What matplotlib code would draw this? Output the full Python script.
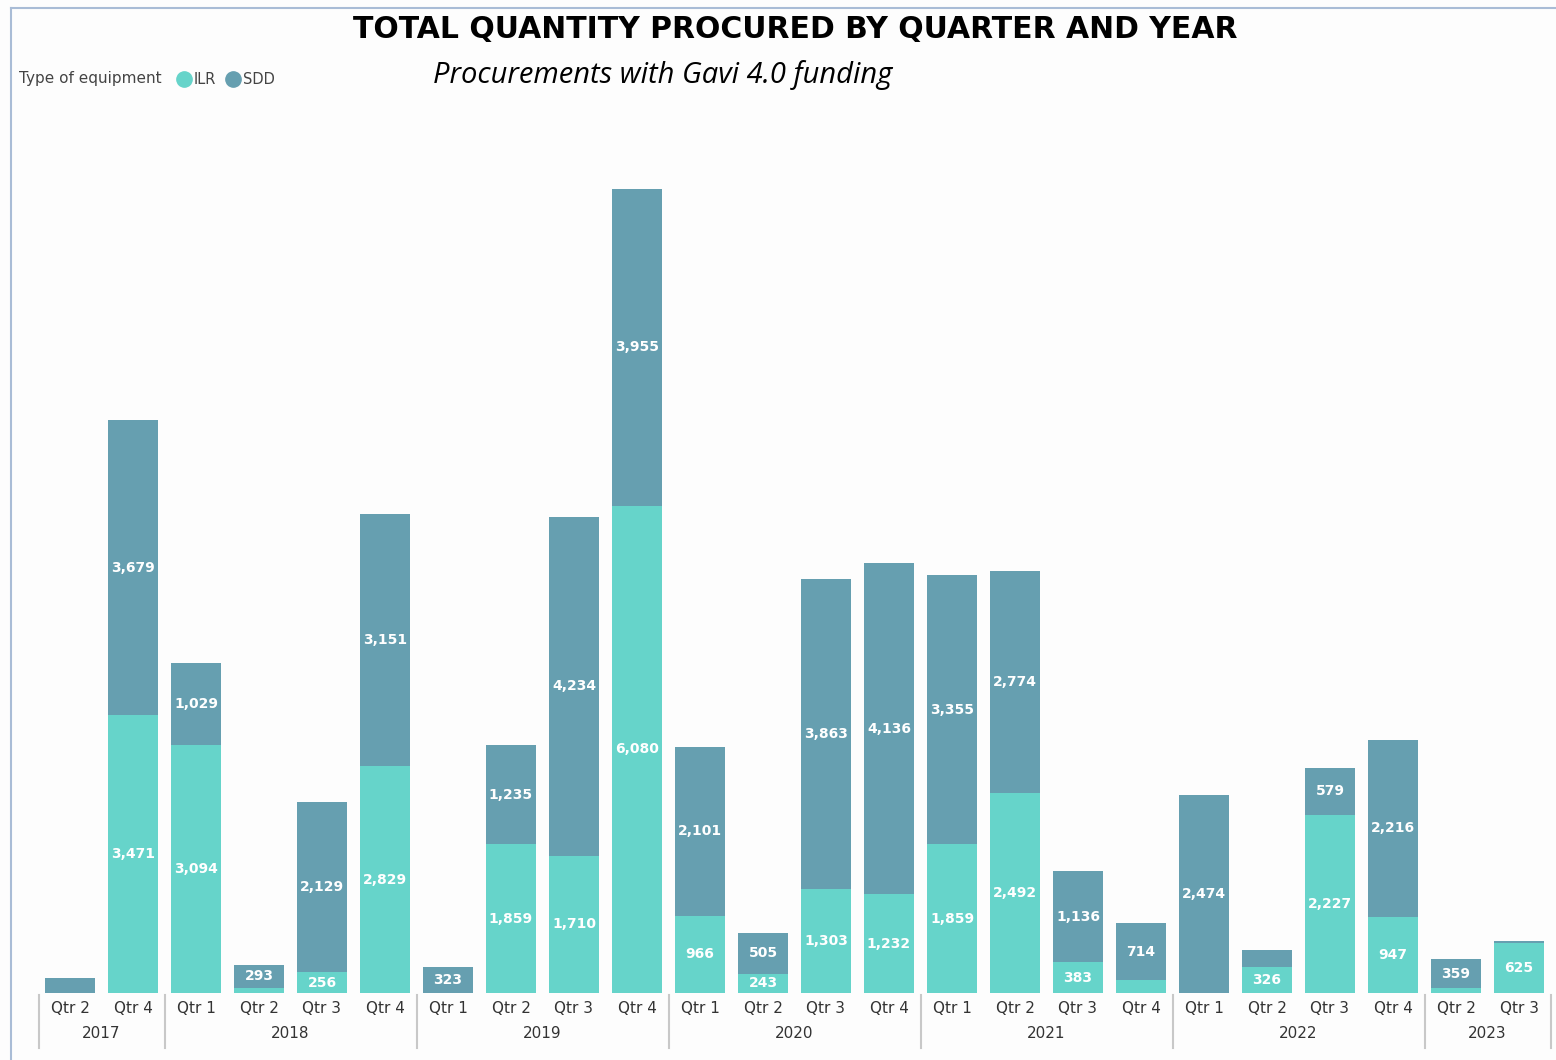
import matplotlib
matplotlib.use("Agg")
import matplotlib.pyplot as plt
import numpy as np

quarters = ["Qtr 2", "Qtr 4",
            "Qtr 1", "Qtr 2", "Qtr 3", "Qtr 4",
            "Qtr 1", "Qtr 2", "Qtr 3", "Qtr 4",
            "Qtr 1", "Qtr 2", "Qtr 3", "Qtr 4",
            "Qtr 1", "Qtr 2", "Qtr 3", "Qtr 4",
            "Qtr 1", "Qtr 2", "Qtr 3", "Qtr 4",
            "Qtr 2", "Qtr 3"]
years = ["2017", "2018", "2019", "2020", "2021", "2022", "2023"]
year_counts = [2, 4, 4, 4, 4, 4, 2]
ilr = [0, 3471, 3094, 60, 256, 2829, 0, 1859, 1710, 6080, 966, 243, 1303, 1232,
       1859, 2492, 383, 160, 0, 326, 2227, 947, 60, 625]
sdd = [190, 3679, 1029, 293, 2129, 3151, 323, 1235, 4234, 3955, 2101, 505, 3863, 4136,
       3355, 2774, 1136, 714, 2474, 205, 579, 2216, 359, 25]

c_ilr = "#66D4CA"
c_sdd = "#669FB0"

W, H = 1556, 1060
fig = plt.figure(figsize=(W / 100, H / 100), dpi=100)
fig.patch.set_facecolor("#FDFDFD")

# frame lines (left and top)
fig.add_artist(plt.Line2D([11 / W, 11 / W], [0, 1 - 8 / H], transform=fig.transFigure,
                          color="#A9BCD6", lw=1.5))
fig.add_artist(plt.Line2D([11 / W, 1], [1 - 8 / H, 1 - 8 / H], transform=fig.transFigure,
                          color="#A9BCD6", lw=1.5))

ax = fig.add_axes([38.5 / W, 67 / H, 1512 / W, 880 / H])
ax.set_facecolor("none")
ymax = 880 / (804 / 10035)
ax.set_xlim(-0.5, len(quarters) - 0.5)
ax.set_ylim(0, ymax)

x = np.arange(len(quarters))
ilr = np.array(ilr)
sdd = np.array(sdd)
ax.bar(x, ilr, width=0.79, color=c_ilr)
ax.bar(x, sdd, width=0.79, bottom=ilr, color=c_sdd)

lab_kw = dict(ha="center", va="center", color="white", fontsize=10,
              fontweight="bold", family="DejaVu Sans")
for i in range(len(x)):
    if ilr[i] >= 230:
        ax.text(x[i], ilr[i] / 2, f"{ilr[i]:,}", **lab_kw)
    if sdd[i] >= 230:
        ax.text(x[i], ilr[i] + sdd[i] / 2, f"{sdd[i]:,}", **lab_kw)

for s in ax.spines.values():
    s.set_visible(False)
ax.set_yticks([])
ax.set_xticks(x)
ax.set_xticklabels(quarters, fontsize=11, color="#333333", family="DejaVu Sans")
ax.tick_params(axis="x", length=0, pad=6)

# year group labels and separators
px = 1 / 880
edges = np.concatenate([[0], np.cumsum(year_counts)]) - 0.5
for e in edges:
    ax.plot([e, e], [-2 * px, -55 * px], transform=ax.get_xaxis_transform(),
            color="#C8C8C8", lw=1.5, clip_on=False)
for k, yr in enumerate(years):
    mid = (edges[k] + edges[k + 1]) / 2
    ax.text(mid, -40 * px, yr, transform=ax.get_xaxis_transform(), ha="center", va="center",
            fontsize=11, color="#333333")

fig.text(795 / W, 1 - 30 / H, "TOTAL QUANTITY PROCURED BY QUARTER AND YEAR",
         ha="center", va="center", fontsize=21.5, fontweight="bold", family="DejaVu Sans")
fig.text(663 / W, 1 - 75 / H, "Procurements with Gavi 4.0 funding",
         ha="center", va="center", fontsize=21, style="italic", family="Open Sans")

# legend
fig.text(19 / W, 1 - 79 / H, "Type of equipment", ha="left", va="center",
         fontsize=11, color="#444444")
fig.add_artist(plt.Line2D([184 / W], [1 - 79 / H], marker="o", markersize=11,
                          color=c_ilr, transform=fig.transFigure))
fig.text(194 / W, 1 - 79 / H, "ILR", ha="left", va="center", fontsize=10.5, color="#444444")
fig.add_artist(plt.Line2D([233 / W], [1 - 79 / H], marker="o", markersize=11,
                          color=c_sdd, transform=fig.transFigure))
fig.text(243 / W, 1 - 79 / H, "SDD", ha="left", va="center", fontsize=10.5, color="#444444")

fig.savefig("out.png", dpi=100, facecolor=fig.get_facecolor())
